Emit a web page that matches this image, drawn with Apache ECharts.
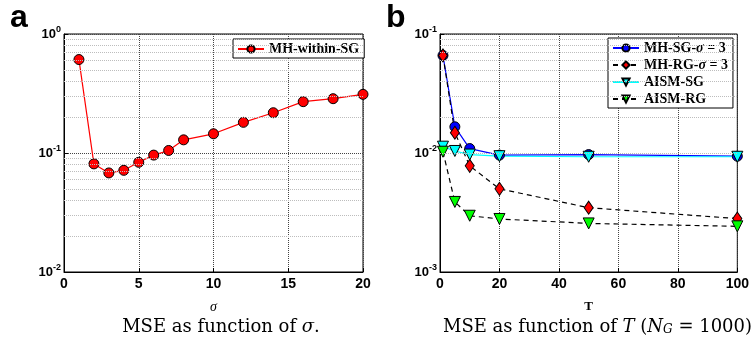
<!DOCTYPE html>
<html>
<head>
<meta charset="utf-8">
<script src="https://cdn.jsdelivr.net/npm/echarts@6/dist/echarts.min.js"></script>
<style>
  html, body { margin: 0; padding: 0; background: #fff; }
  #chart { width: 752px; height: 338px; }
</style>
</head>
<body>
<div id="chart"></div>
<script>
// panel a: MSE vs sigma
const sigmaVals = [1, 2, 3, 4, 5, 6, 7, 8, 10, 12, 14, 16, 18, 20];
const mseSigma = [0.61, 0.081, 0.068, 0.0715, 0.0835, 0.096, 0.105, 0.129, 0.145, 0.181, 0.218, 0.27, 0.286, 0.311];

// panel b: MSE vs T
const tVals = [1, 5, 10, 20, 50, 100];
const mhSG = [0.066, 0.0166, 0.0109, 0.0096, 0.0097, 0.0094];
const mhRG = [0.066, 0.0148, 0.0078, 0.0050, 0.00347, 0.00281];
const aismSG = [0.0113, 0.0104, 0.0097, 0.0094, 0.0093, 0.0093];
const aismRG = [0.01025, 0.00388, 0.00297, 0.00279, 0.00256, 0.00242];

// minor grid values (2..9 x 10^k)
const minorA = [];
const minorB = [];
[0.01, 0.1].forEach(d => { for (let k = 2; k <= 9; k++) minorA.push(+(k * d).toPrecision(3)); });
[0.001, 0.01].forEach(d => { for (let k = 2; k <= 9; k++) minorB.push(+(k * d).toPrecision(3)); });

const pairs = (xs, ys) => xs.map((x, i) => [x, ys[i]]);

const myChart = echarts.init(document.getElementById('chart'));

const tickFont = { fontFamily: 'Liberation Sans', fontWeight: 'bold', color: '#000' };

const logLabel = {
  formatter: v => '{b|10}{s|' + Math.round(Math.log10(v)) + '}',
  margin: 3,
  rich: {
    b: { fontFamily: 'Liberation Sans', fontWeight: 'bold', fontSize: 13, color: '#000', lineHeight: 18 },
    s: { fontFamily: 'Liberation Sans', fontWeight: 'bold', fontSize: 9, color: '#000', verticalAlign: 'top', lineHeight: 10 }
  }
};

const xAxisBase = {
  type: 'value',
  axisLine: { onZero: false, lineStyle: { color: '#000' } },
  axisTick: { inside: true, length: 4, lineStyle: { color: '#000' } },
  axisLabel: Object.assign({ fontSize: 14, margin: 5 }, tickFont),
  splitLine: { show: true, lineStyle: { type: 'dotted', color: '#444' } }
};

const yAxisBase = {
  type: 'log',
  logBase: 10,
  axisLine: { lineStyle: { color: '#000' } },
  axisTick: { inside: true, length: 4, lineStyle: { color: '#000' } },
  axisLabel: logLabel,
  splitLine: { show: true, lineStyle: { type: 'dotted', color: '#444' } }
};

const gridLines = (vals, xi) => ({
  type: 'line',
  xAxisIndex: xi,
  yAxisIndex: xi,
  data: [],
  silent: true,
  markLine: {
    silent: true,
    symbol: ['none', 'none'],
    label: { show: false },
    animation: false,
    lineStyle: { type: 'dotted', color: '#bdbdbd', width: 1 },
    data: vals.map(v => ({ yAxis: v }))
  }
});

const legendText = {
  fontFamily: 'Liberation Serif',
  fontWeight: 'bold',
  fontSize: 14,
  color: '#000',
  rich: {
    i: { fontFamily: 'Liberation Serif', fontStyle: 'italic', fontSize: 14, color: '#000' }
  }
};

const option = {
  animation: false,
  grid: [
    { left: 64, top: 34, width: 299, height: 238, show: true, borderColor: '#000', borderWidth: 1 },
    { left: 440, top: 34, width: 300, height: 238, show: true, borderColor: '#000', borderWidth: 1 }
  ],
  xAxis: [
    Object.assign({}, xAxisBase, {
      gridIndex: 0, min: 0, max: 20, interval: 5,
      name: 'σ', nameLocation: 'middle', nameGap: 28,
      nameTextStyle: { fontFamily: 'Liberation Serif', fontStyle: 'italic', fontSize: 14, color: '#000' }
    }),
    Object.assign({}, xAxisBase, {
      gridIndex: 1, min: 0, max: 100, interval: 20,
      name: 'T', nameLocation: 'middle', nameGap: 28,
      nameTextStyle: { fontFamily: 'Liberation Serif', fontWeight: 'bold', fontSize: 13, color: '#000' }
    })
  ],
  yAxis: [
    Object.assign({}, yAxisBase, { gridIndex: 0, min: 0.01, max: 1 }),
    Object.assign({}, yAxisBase, { gridIndex: 1, min: 0.001, max: 0.1 })
  ],
  legend: [
    {
      data: ['MH-within-SG'],
      left: 233, top: 39,
      orient: 'vertical',
      backgroundColor: '#fff', borderColor: '#000', borderWidth: 1,
      padding: [3, 5, 2, 4],
      itemWidth: 26, itemHeight: 9, itemGap: 6,
      textStyle: legendText
    },
    {
      data: ['MH-SG-σ = 3', 'MH-RG-σ = 3', 'AISM-SG', 'AISM-RG'],
      left: 608, top: 38,
      orient: 'vertical',
      backgroundColor: '#fff', borderColor: '#000', borderWidth: 1,
      padding: [3, 5, 2, 4],
      itemWidth: 26, itemHeight: 9, itemGap: 3,
      formatter: name => name.replace('σ', '{i|σ}'),
      textStyle: legendText
    }
  ],
  graphic: [
    { type: 'text', left: 10, top: 2, style: { text: 'a', font: 'bold 32px "Liberation Sans"', fill: '#000' } },
    { type: 'text', left: 386, top: 2, style: { text: 'b', font: 'bold 32px "Liberation Sans"', fill: '#000' } },
    {
      type: 'text', x: 221, y: 327,
      style: {
        text: 'MSE as function of {i|σ}.',
        font: '18px "DejaVu Serif"', fill: '#000', align: 'center', verticalAlign: 'middle',
        rich: { i: { fontFamily: 'DejaVu Serif', fontStyle: 'italic', fontSize: 18 } }
      }
    },
    {
      type: 'text', x: 443, y: 327,
      style: {
        text: 'MSE as function of {i|T} ({i|N}{sub|G} = 1000)',
        font: '18px "DejaVu Serif"', fill: '#000', align: 'left', verticalAlign: 'middle',
        rich: {
          i: { fontFamily: 'DejaVu Serif', fontStyle: 'italic', fontSize: 18 },
          sub: { fontFamily: 'DejaVu Serif', fontStyle: 'italic', fontSize: 12, verticalAlign: 'bottom', lineHeight: 14 }
        }
      }
    }
  ],
  series: [
    gridLines(minorA, 0),
    gridLines(minorB, 1),
    {
      name: 'MH-within-SG', type: 'line', xAxisIndex: 0, yAxisIndex: 0,
      data: pairs(sigmaVals, mseSigma),
      symbol: 'circle', symbolSize: 10,
      lineStyle: { color: '#ff0000', width: 1.2 },
      itemStyle: { color: '#ff0000', borderColor: '#000', borderWidth: 1 }
    },
    {
      name: 'MH-SG-σ = 3', type: 'line', xAxisIndex: 1, yAxisIndex: 1,
      data: pairs(tVals, mhSG),
      symbol: 'circle', symbolSize: 10,
      lineStyle: { color: '#0000ff', width: 1.2 },
      itemStyle: { color: '#0000ff', borderColor: '#000', borderWidth: 1 }
    },
    {
      name: 'MH-RG-σ = 3', type: 'line', xAxisIndex: 1, yAxisIndex: 1,
      data: pairs(tVals, mhRG),
      symbol: 'diamond', symbolSize: [9, 13],
      lineStyle: { color: '#000', width: 1.2, type: [5, 4] },
      itemStyle: { color: '#ff0000', borderColor: '#000', borderWidth: 1 }
    },
    {
      name: 'AISM-SG', type: 'line', xAxisIndex: 1, yAxisIndex: 1,
      data: pairs(tVals, aismSG),
      symbol: 'triangle', symbolRotate: 180, symbolSize: 11,
      lineStyle: { color: '#00ffff', width: 1.2 },
      itemStyle: { color: '#00ffff', borderColor: '#000', borderWidth: 1 }
    },
    {
      name: 'AISM-RG', type: 'line', xAxisIndex: 1, yAxisIndex: 1,
      data: pairs(tVals, aismRG),
      symbol: 'triangle', symbolRotate: 180, symbolSize: 11,
      lineStyle: { color: '#000', width: 1.2, type: [5, 4] },
      itemStyle: { color: '#00ff00', borderColor: '#000', borderWidth: 1 }
    }
  ]
};

option && myChart.setOption(option);
</script>
</body>
</html>
